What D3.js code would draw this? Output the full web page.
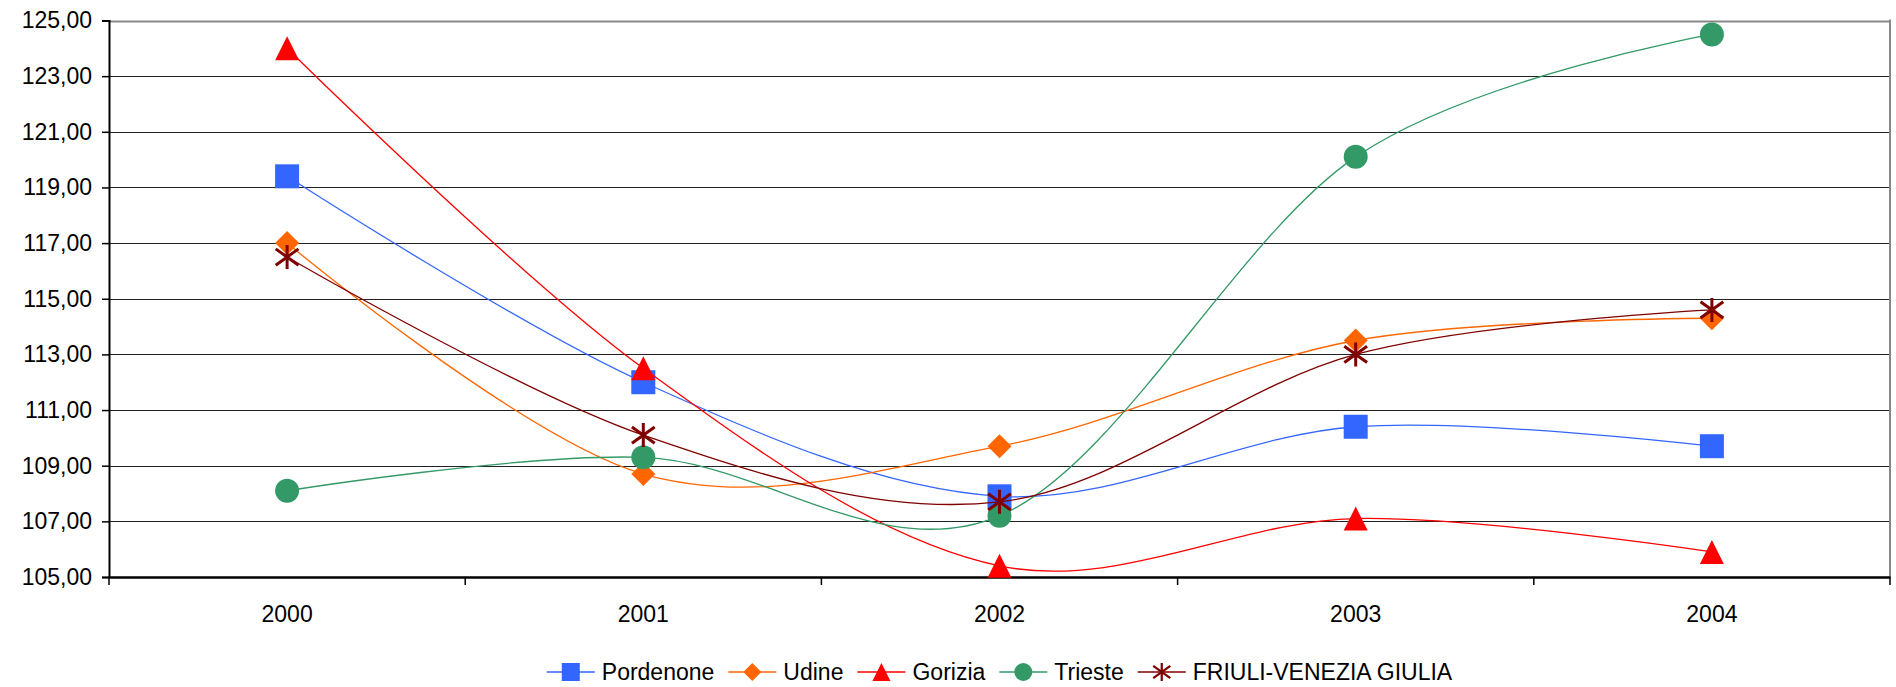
<!DOCTYPE html>
<html>
<head>
<meta charset="utf-8">
<script src="https://cdn.jsdelivr.net/npm/d3@7"></script>
<style>
  html, body { margin: 0; padding: 0; background: #fff; }
  svg { display: block; }
  text { font-family: "Liberation Sans", Arial, sans-serif; fill: #000; }
</style>
</head>
<body>
<svg id="chart" width="1896" height="687"></svg>
<script>
// ---- data ----
const years = ["2000", "2001", "2002", "2003", "2004"];
const pordenone = [119.4, 112.0, 107.9, 110.4, 109.7];
const udine     = [117.0, 108.7, 109.7, 113.5, 114.3];
const gorizia   = [124.0, 112.5, 105.4, 107.1, 105.9];
const trieste   = [108.1, 109.3, 107.2, 120.1, 124.5];
const fvg       = [116.5, 110.1, 107.7, 113.0, 114.6];
const seriesNames = ["Pordenone", "Udine", "Gorizia", "Trieste", "FRIULI-VENEZIA GIULIA"];
const yTicks = [105, 107, 109, 111, 113, 115, 117, 119, 121, 123, 125];

const seriesValues = [pordenone, udine, gorizia, trieste, fvg];
const colors = ["#3366FF", "#FF6600", "#FF0000", "#339966", "#800000"];
const shapes = ["square", "diamond", "triangle", "circle", "star"];

const svg = d3.select("#chart");
const L = 109, R = 1890, T = 20.5, B = 577;

const x = d3.scaleBand().domain(years).range([L, R]);
const y = d3.scaleLinear().domain([105, 125]).range([B, T]);
const fmt = v => d3.format(".2f")(v).replace(".", ",");

// gridlines
svg.append("g").selectAll("line").data(yTicks.slice(1)).join("line")
  .attr("x1", L).attr("x2", R)
  .attr("y1", d => Math.round(y(d)) + 0.5).attr("y2", d => Math.round(y(d)) + 0.5)
  .attr("stroke", d => d === 125 ? "#888" : "#222").attr("stroke-width", d => d === 125 ? 2 : 1.2);

// right border
svg.append("line").attr("x1", R).attr("x2", R).attr("y1", T - 1).attr("y2", B)
  .attr("stroke", "#888").attr("stroke-width", 2);

// y axis
const yAxis = d3.axisLeft(y).tickValues(yTicks).tickFormat(fmt).tickSize(7).tickPadding(10);
const gy = svg.append("g").attr("transform", `translate(${L},0)`).call(yAxis);
gy.select(".domain").attr("stroke", "#000").attr("stroke-width", 2);
gy.selectAll(".tick line").attr("stroke", "#000").attr("stroke-width", 1.5);
gy.selectAll(".tick text").attr("font-size", 23).attr("font-family", "Liberation Sans, Arial, sans-serif").attr("fill", "#000");

// x axis
const xAxis = d3.axisBottom(x).tickSize(0).tickPadding(0);
const gx = svg.append("g").attr("transform", `translate(0,${B})`).call(xAxis);
gx.select(".domain").attr("stroke", "#000").attr("stroke-width", 2.5);
gx.selectAll(".tick text").attr("font-size", 23).attr("dy", null).attr("y", 45)
  .attr("font-family", "Liberation Sans, Arial, sans-serif").attr("fill", "#000");
// x ticks at category boundaries
const bounds = years.map(d => x(d)).concat([x(years[years.length - 1]) + x.bandwidth()]);
svg.append("g").selectAll("line").data(bounds).join("line")
  .attr("x1", d => d).attr("x2", d => d).attr("y1", B).attr("y2", B + 8)
  .attr("stroke", "#000").attr("stroke-width", 1.5);

// marker drawer
function drawMarker(g, shape, color, s) {
  const h = s / 2;
  if (shape === "square") {
    g.append("rect").attr("x", -h).attr("y", -h).attr("width", s).attr("height", s).attr("fill", color);
  } else if (shape === "diamond") {
    g.append("path").attr("d", `M0,${-h}L${h},0L0,${h}L${-h},0Z`).attr("fill", color);
  } else if (shape === "triangle") {
    g.append("path").attr("d", `M0,${-h}L${h},${h}L${-h},${h}Z`).attr("fill", color);
  } else if (shape === "circle") {
    g.append("circle").attr("r", h).attr("fill", color);
  } else if (shape === "star") {
    const dx = h * 0.95, dy = h * 0.68;
    g.append("path").attr("d", `M0,${-h}L0,${h}M${-dx},${-dy}L${dx},${dy}M${-dx},${dy}L${dx},${-dy}`)
      .attr("stroke", color).attr("stroke-width", s / 8).attr("fill", "none");
  }
}

const line = d3.line()
  .x((d, i) => x(years[i]) + x.bandwidth() / 2)
  .y(d => y(d))
  .curve(d3.curveCardinal.tension(0));

seriesValues.forEach((vals, si) => {
  const g = svg.append("g");
  g.append("path").attr("d", line(vals)).attr("fill", "none")
    .attr("stroke", colors[si]).attr("stroke-width", 1.3);
  vals.forEach((v, i) => {
    const m = g.append("g").attr("transform", `translate(${x(years[i]) + x.bandwidth() / 2},${y(v)})`);
    drawMarker(m, shapes[si], colors[si], 24);
  });
});

// legend
const legend = svg.append("g");
const fs = 23;
let cx = 0;
seriesNames.forEach((name, i) => {
  const it = legend.append("g");
  it.append("line").attr("x1", 0).attr("x2", 48).attr("y1", 0).attr("y2", 0)
    .attr("stroke", colors[i]).attr("stroke-width", 1.5);
  const m = it.append("g").attr("transform", "translate(24,0)");
  drawMarker(m, shapes[i], colors[i], 18);
  const t = it.append("text").attr("x", 55).attr("y", 0).attr("dy", "0.35em")
    .attr("font-size", fs).text(name);
  const w = 55 + t.node().getComputedTextLength();
  it.attr("transform", `translate(${cx},0)`);
  cx += w + 14;
});
const totalW = cx - 14;
legend.attr("transform", `translate(${(L + R) / 2 - totalW / 2},672)`);
</script>
</body>
</html>
